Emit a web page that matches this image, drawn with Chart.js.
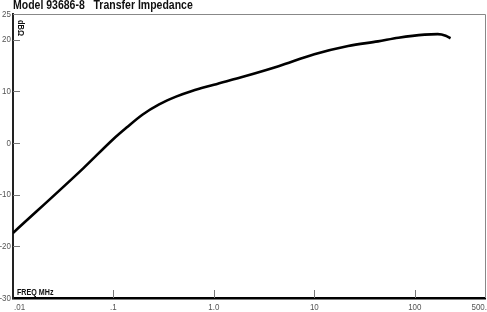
<!DOCTYPE html>
<html>
<head>
<meta charset="utf-8">
<script src="https://cdn.jsdelivr.net/npm/chart.js@4/dist/chart.umd.min.js"></script>
<style>
html,body{margin:0;padding:0;background:#fff;}
#wrap{position:relative;width:487px;height:312px;}
canvas{display:block;}
</style>
</head>
<body>
<div id="wrap"><canvas id="c" width="487" height="312"></canvas></div>
<script>
const titleText = "Model 93686-8   Transfer Impedance";
const yUnitLabel = "dBΩ";
const xUnitLabel = "FREQ MHz";
const freqMHz = [0.01, 0.05, 0.1, 0.135, 0.194, 0.285, 0.42, 0.605, 1, 2.07, 4.4, 10, 21.7, 43, 68.7, 125, 169, 203, 227];
const impedanceDb = [-17.4, -4.9, 0.8, 3.0, 5.5, 7.5, 9.0, 10.1, 11.3, 13.0, 14.9, 17.2, 18.8, 19.7, 20.4, 21.0, 21.1, 20.8, 20.3];
const xTickValues = [0.01, 0.1, 1, 10, 100, 500];
const xTickLabels = [".01", ".1", "1.0", "10", "100", "500."];
const yTickValues = [-30, -20, -10, 0, 10, 20, 25];
const yTickLabels = ["-30", "-20", "-10", "0", "10", "20", "25"];
const innerXTicks = [0.1, 1, 10, 100];
const innerYTicks = [-20, -10, 0, 10, 20];

const FONT = "'Liberation Sans', Arial, sans-serif";
const SX = 0.84;

function txt(ctx, s, x, y, font, align, base, color) {
  ctx.save();
  ctx.font = font;
  ctx.fillStyle = color;
  ctx.textBaseline = base;
  ctx.textAlign = 'left';
  const w = ctx.measureText(s).width * SX;
  let x0 = x;
  if (align === 'center') x0 = x - w / 2;
  else if (align === 'right') x0 = x - w;
  ctx.translate(x0, y);
  ctx.scale(SX, 1);
  ctx.fillText(s, 0, 0);
  ctx.restore();
}

const points = freqMHz.map((f, i) => ({x: f, y: impedanceDb[i]}));

const decor = {
  id: 'decor',
  afterDraw(chart) {
    const ctx = chart.ctx;
    const a = chart.chartArea;
    const xs = chart.scales.x, ys = chart.scales.y;
    ctx.save();
    ctx.strokeStyle = '#888';
    ctx.lineWidth = 1;
    ctx.beginPath();
    ctx.moveTo(a.left, a.top + 0.5);
    ctx.lineTo(a.right + 0.5, a.top + 0.5);
    ctx.lineTo(a.right + 0.5, a.bottom);
    ctx.stroke();
    ctx.strokeStyle = '#777';
    ctx.beginPath();
    innerYTicks.forEach(v => {
      const y = Math.round(ys.getPixelForValue(v)) + 0.5;
      ctx.moveTo(a.left, y); ctx.lineTo(a.left + 7, y);
    });
    innerXTicks.forEach(v => {
      const x = Math.round(xs.getPixelForValue(v)) + 0.5;
      ctx.moveTo(x, a.bottom); ctx.lineTo(x, a.bottom - 8);
    });
    ctx.stroke();
    ctx.restore();

    const tf = "9.5px " + FONT;
    xTickValues.forEach((v, i) => {
      const x = xs.getPixelForValue(v);
      let al = 'center', xx = x;
      if (i === 0) { al = 'left'; xx = x + 1; }
      else if (i === xTickValues.length - 1) { al = 'right'; xx = x + 2; }
      txt(ctx, xTickLabels[i], xx, a.bottom + 9, tf, al, 'middle', '#555');
    });
    yTickValues.forEach((v, i) => {
      const y = ys.getPixelForValue(v);
      txt(ctx, yTickLabels[i], a.left - 2, y, tf, 'right', 'middle', '#555');
    });
    txt(ctx, titleText, a.left, 6, "bold 12.5px " + FONT, 'left', 'middle', '#111');
    txt(ctx, xUnitLabel, a.left + 4, a.bottom - 3, "bold 8.5px " + FONT, 'left', 'alphabetic', '#111');

    ctx.save();
    ctx.translate(a.left + 3, a.top + 6);
    ctx.rotate(Math.PI / 2);
    txt(ctx, yUnitLabel, 0, 0, "bold 9px " + FONT, 'left', 'bottom', '#111');
    ctx.restore();
  }
};

new Chart(document.getElementById('c'), {
  type: 'line',
  data: {
    datasets: [{
      data: points,
      borderColor: '#000',
      borderWidth: 2.6,
      pointRadius: 0,
      fill: false,
      cubicInterpolationMode: 'monotone'
    }]
  },
  options: {
    responsive: false,
    animation: false,
    devicePixelRatio: 1,
    layout: {padding: {top: 14, right: 2, left: 0, bottom: 0}},
    plugins: {legend: {display: false}, tooltip: {enabled: false}, title: {display: false}},
    scales: {
      x: {
        type: 'logarithmic',
        min: 0.01,
        max: 500,
        grid: {display: false, drawTicks: false},
        border: {display: true, color: '#000', width: 2.5},
        ticks: {display: false},
        afterBuildTicks: s => { s.ticks = xTickValues.map(v => ({value: v})); },
        afterFit: s => { s.height = 14; }
      },
      y: {
        type: 'linear',
        min: -30,
        max: 25,
        grid: {display: false, drawTicks: false},
        border: {display: true, color: '#222', width: 2},
        ticks: {display: false},
        afterBuildTicks: s => { s.ticks = yTickValues.map(v => ({value: v})); },
        afterFit: s => { s.width = 13; }
      }
    }
  },
  plugins: [decor]
});
</script>
</body>
</html>
